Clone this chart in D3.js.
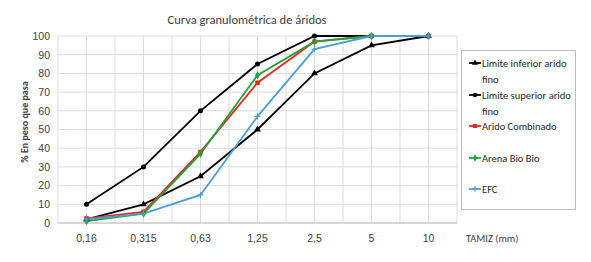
<!DOCTYPE html>
<html>
<head>
<meta charset="utf-8">
<script src="https://cdn.jsdelivr.net/npm/d3@7"></script>
<style>
  body { margin: 0; background: #fff; }
  svg { font-family: Calibri, Carlito, "Open Sans", sans-serif; }
</style>
</head>
<body>
<svg width="591" height="262"></svg>
<script>
const tamices = ["0,16", "0,315", "0,63", "1,25", "2,5", "5", "10"];
const limInferior = [2, 10, 25, 50, 80, 95, 100];
const limSuperior = [10, 30, 60, 85, 100, 100, 100];
const aridoCombinado = [2.5, 6, 38, 75, 97, 100, 100];
const arenaBioBio = [1, 5, 37, 79, 97, 100, 100];
const efc = [2, 5, 15, 57, 93, 100, 100];
const yTicks = [0, 10, 20, 30, 40, 50, 60, 70, 80, 90, 100];

const series = [
    {name: ["Limite inferior arido", "fino"], values: limInferior, color: "#000", marker: "triangle"},
    {name: ["Limite superior arido", "fino"], values: limSuperior, color: "#000", marker: "circle"},
    {name: ["Arido Combinado"], values: aridoCombinado, color: "#e8261c", marker: "square"},
    {name: ["Arena Bio Bio"], values: arenaBioBio, color: "#1fa43a", marker: "diamond"},
    {name: ["EFC"], values: efc, color: "#4a9fd6", marker: "plus"}
];

const svg = d3.select("svg");
const area = {left: 58, top: 36, width: 399, height: 187};

const scX = d3.scaleBand().domain(tamices).range([0, area.width]);
const scY = d3.scaleLinear().domain([0, 100]).range([area.height, 0]);

const g = svg.append("g").attr("transform", `translate(${area.left}, ${area.top})`);

// rejilla
g.selectAll(".hgrid").data(yTicks).enter().append("line")
    .attr("x1", 0).attr("x2", area.width)
    .attr("y1", d => scY(d)).attr("y2", d => scY(d))
    .style("stroke", "#dcdcdc").style("stroke-width", 1);

const vgrid = [];
tamices.forEach(t => { vgrid.push(scX(t)); vgrid.push(scX(t) + scX.bandwidth() / 2); });
vgrid.push(area.width);
g.selectAll(".vgrid").data(vgrid).enter().append("line")
    .attr("x1", d => d).attr("x2", d => d)
    .attr("y1", 0).attr("y2", area.height)
    .style("stroke", "#dcdcdc").style("stroke-width", 1);

g.append("line").attr("x1", 0).attr("x2", area.width)
    .attr("y1", area.height).attr("y2", area.height)
    .style("stroke", "#bfbfbf");

// ejes
const axisY = d3.axisLeft(scY).tickValues(yTicks).tickSize(0).tickPadding(8);
g.append("g").call(axisY).call(a => a.select(".domain").remove())
    .selectAll("text").style("font-size", "10.5px").style("fill", "#404040");

const axisX = d3.axisBottom(scX).tickSize(0).tickPadding(12);
g.append("g").attr("transform", `translate(0, ${area.height})`)
    .call(axisX).call(a => a.select(".domain").remove())
    .selectAll("text").style("font-size", "10.5px").style("fill", "#404040");

// lineas
const line = d3.line()
    .x((d, i) => scX(tamices[i]) + scX.bandwidth() / 2)
    .y(d => scY(d));

function drawMarker(sel, type, color, size) {
    if (type == "plus") {
        sel.append("path")
            .attr("d", `M${-size},0H${size}M0,${-size}V${size}`)
            .style("stroke", color).style("stroke-width", 1.2).style("fill", "none");
        return;
    }
    const sym = {triangle: d3.symbolTriangle, circle: d3.symbolCircle,
                 square: d3.symbolSquare, diamond: d3.symbolDiamond}[type];
    sel.append("path")
        .attr("d", d3.symbol().type(sym).size(size * size * 2.2))
        .style("fill", color);
}

series.forEach(s => {
    g.append("path").datum(s.values)
        .attr("d", line)
        .style("stroke", s.color).style("stroke-width", 1.8).style("fill", "none");
});
series.forEach(s => {
    s.values.forEach((v, i) => {
        const m = g.append("g")
            .attr("transform", `translate(${scX(tamices[i]) + scX.bandwidth() / 2}, ${scY(v)})`);
        drawMarker(m, s.marker, s.color, 3);
    });
});

// titulo y etiquetas
svg.append("text").attr("x", 247).attr("y", 24).attr("text-anchor", "middle")
    .style("font-size", "12.5px").style("fill", "#404040")
    .text("Curva granulométrica de áridos");

svg.append("text").attr("transform", "translate(28, 122) rotate(-90)")
    .attr("text-anchor", "middle").style("font-size", "10px").style("font-weight", "bold")
    .style("fill", "#404040").text("% En peso que pasa");

svg.append("text").attr("x", 466).attr("y", 242)
    .style("font-size", "10.5px").style("fill", "#404040").text("TAMIZ (mm)");

// leyenda
const leg = svg.append("g").attr("transform", "translate(461, 50)");
leg.append("rect").attr("x", 0.5).attr("y", 0.5).attr("width", 114).attr("height", 159)
    .style("fill", "#fff").style("stroke", "#bfbfbf");
const legY = [13, 45, 76, 108, 139];
series.forEach((s, i) => {
    const row = leg.append("g").attr("transform", `translate(8, ${legY[i]})`);
    row.append("line").attr("x1", 0).attr("x2", 12).attr("y1", 0).attr("y2", 0)
        .style("stroke", s.color).style("stroke-width", 1.8);
    const m = row.append("g").attr("transform", "translate(6, 0)");
    drawMarker(m, s.marker, s.color, 2.7);
    s.name.forEach((t, j) => {
        row.append("text").attr("x", 13).attr("y", 4 + j * 16)
            .style("font-size", "10.5px").style("fill", "#262626").text(t);
    });
});
</script>
</body>
</html>
